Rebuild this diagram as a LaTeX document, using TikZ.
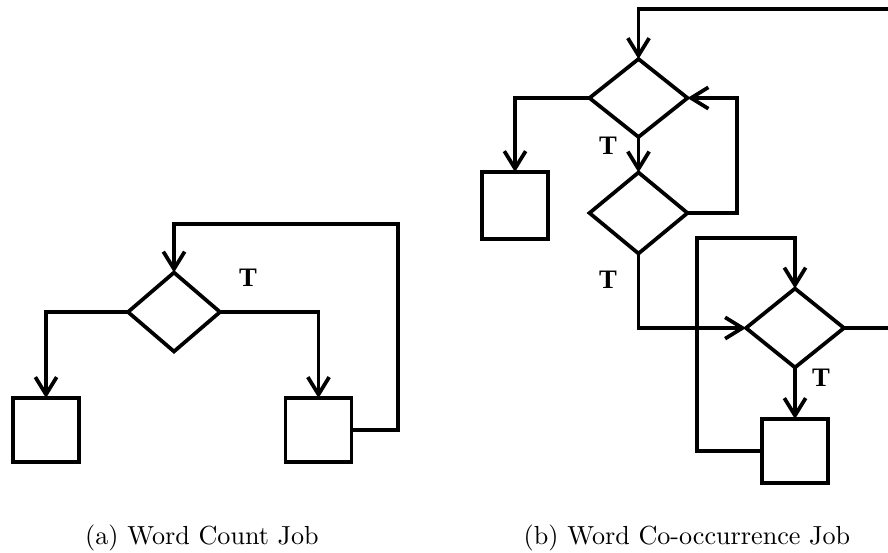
\documentclass[tikz,border=0pt]{standalone}
\usepackage{fontspec}
\newfontfamily\tfont{Liberation Serif}
\usetikzlibrary{shapes.geometric,arrows.meta}
\tikzset{
  dec/.style={draw, shape=diamond, inner sep=0pt, outer sep=0pt, line width=1.4pt},
  boxn/.style={draw, rectangle, inner sep=0pt, outer sep=0pt, line width=1.4pt,
    minimum width=24.75pt, minimum height=24pt},
  arr/.style={line width=1.4pt, -{Straight Barb[length=6.5pt,width=8pt]}},
  conn/.style={line width=1.4pt},
  tlab/.style={font=\tfont\bfseries\fontsize{10}{12}\selectfont, inner sep=0pt},
  captext/.style={font=\fontsize{9.8}{11}\selectfont, inner sep=0pt, anchor=base}
}
\begin{document}
\begin{tikzpicture}[x=0.375pt, y=-0.375pt]
\useasboundingbox (0,0) rectangle (888,552);
\clip (0,0) rectangle (888,552);
% (a) Word Count Job
\node[dec, minimum width=34.5pt, minimum height=29.6pt] (da) at (174,312) {};
\node[boxn] (ba1) at (46,430) {};
\node[boxn] (ba2) at (318.5,430) {};
\coordinate (la) at (398,224);
\draw[arr] (da.west) -| (ba1.north);
\draw[arr] (da.east) -| (ba2.north);
\draw[arr] (ba2.east) -| (la) -| (da.north);
\node[tlab] (ta) at (248,278) {T};
\node[captext] (capa) at (202,544) {(a) Word Count Job};
% (b) Word Co-occurrence Job
\node[dec, minimum width=36.75pt, minimum height=29.25pt] (d1) at (638.5,98) {};
\node[boxn, minimum height=25.1pt] (b1) at (515,205.5) {};
\node[dec, minimum width=36.75pt, minimum height=30.4pt] (d2) at (638.5,213) {};
\node[dec, minimum width=36.75pt, minimum height=29.6pt] (d3) at (795,328) {};
\node[boxn] (b3) at (795,451) {};
\coordinate (r2) at (737,98);
\coordinate (lb) at (697,238);
\coordinate (rt) at (905,9);
\draw[arr] (d1.west) -| (b1.north);
\draw[arr] (d1.south) -- (d2.north);
\draw[arr] (d2.east) -| (r2) -- (d1.east);
\draw[arr] (d2.south) |- (d3.west);
\draw[arr] (d3.south) -- (b3.north);
\draw[arr] (b3.west) -| (lb) -| (d3.north);
\draw[arr] (d3.east) -| (rt) -| (d1.north);
\node[tlab] (tb1) at (608,146) {T};
\node[tlab] (tb2) at (608,280) {T};
\node[tlab] (tb3) at (821,378) {T};
\node[captext] (capb) at (687,544) {(b) Word Co-occurrence Job};
\end{tikzpicture}
\end{document}
